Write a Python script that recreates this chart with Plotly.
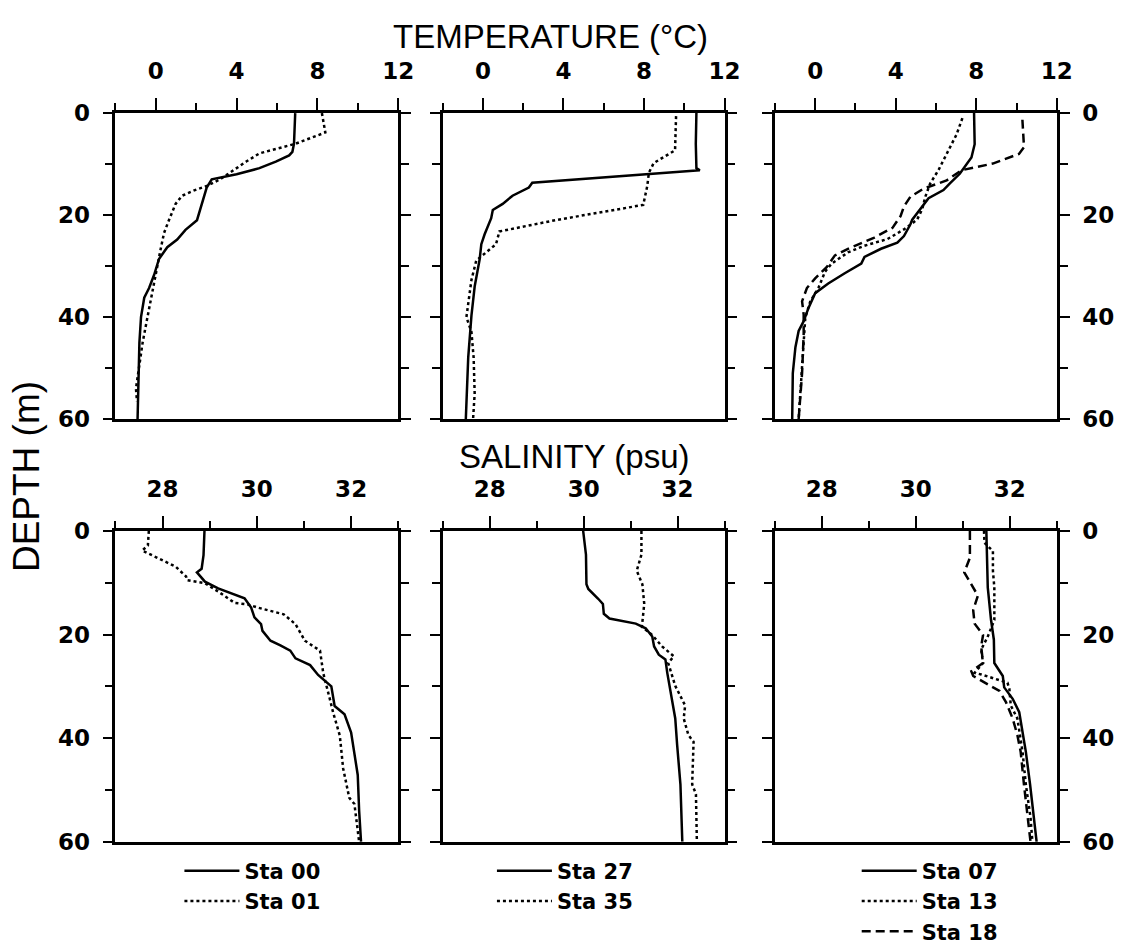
import plotly.graph_objects as go

# ---------------- data ----------------
# Panel 1: temperature, Sta 00 / Sta 01
t00_temp = [6.9, 6.87, 6.84, 6.76, 6.6, 5.94, 5.13, 4.0, 2.77, 2.52, 2.36, 2.2, 2.04, 1.47, 1.06, 0.57, 0.16, -0.08, -0.33, -0.57, -0.73, -0.81, -0.86, -0.9]
t00_depth = [0, 4.4, 6, 7.6, 8.3, 9.5, 10.8, 12, 13, 14.6, 16.8, 19, 21, 22.9, 24.8, 26.3, 28.6, 31.7, 34.3, 36.2, 40, 45, 51.4, 60]
t01_temp = [8.22, 8.39, 6.92, 6.27, 5.13, 4.48, 3.66, 3.18, 2.52, 1.87, 1.3, 0.98, 0.65, 0.41, 0.24, 0.08, -0.16, -0.41, -0.65, -0.81, -0.98, -0.93]
t01_depth = [0, 3.8, 6, 6.7, 7.9, 9.5, 11.7, 13, 14.3, 15.2, 16.2, 17.8, 21, 23.5, 26.7, 29.8, 34.9, 40, 45, 49.5, 54, 56.5]

# Panel 2: temperature, Sta 27 / Sta 35
t27_temp = [10.6, 10.57, 10.6, 10.77, 2.45, 2.28, 1.47, 0.98, 0.49, 0.41, 0.08, -0.08, -0.16, -0.41, -0.57, -0.73, -0.85]
t27_depth = [0, 6, 10.8, 11.2, 13.65, 14.6, 16.2, 17.8, 19, 20.6, 23.8, 25.7, 28.6, 34, 39.7, 47.9, 60]
t35_temp = [9.59, 9.54, 8.48, 8.24, 8.16, 7.96, 3.59, 0.82, 0.65, 0.08, -0.33, -0.57, -0.82, -0.57, -0.46, -0.41, -0.49]
t35_depth = [0.6, 7.3, 9.8, 11.7, 14.3, 18, 21, 23.2, 25.7, 27.6, 28.9, 32.7, 40, 42.9, 48, 55, 60]

# Panel 3: temperature, Sta 07 / Sta 13 / Sta 18
t07_temp = [7.89, 7.92, 7.76, 7.43, 7.18, 6.69, 6.37, 5.63, 5.22, 4.82, 4.73, 4.41, 4.08, 3.27, 2.45, 2.29, 1.47, 0.65, 0.0, -0.33, -0.57, -0.82, -0.98, -1.11, -1.14]
t07_depth = [0, 6.1, 8.7, 10.6, 11.9, 13.8, 15.1, 16.7, 18.9, 20.9, 21.8, 24.1, 25.4, 26.6, 28.2, 29.5, 31.4, 33.4, 35.3, 38.2, 40.8, 42.7, 45.9, 51, 60]
t13_temp = [7.31, 7.02, 6.53, 6.12, 5.71, 5.47, 5.31, 5.06, 4.41, 3.59, 2.45, 1.63, 0.82, 0.49, 0.16, -0.24, -0.49, -0.57, -0.65, -0.82]
t13_depth = [1, 4.2, 8, 11.2, 13.8, 16.4, 18.9, 20.9, 22.8, 24.7, 26, 27.3, 29.5, 31.1, 34.3, 36.9, 40.1, 44.6, 51, 60]
t18_temp = [10.29, 10.37, 10.12, 8.82, 7.27, 6.53, 5.39, 4.73, 4.41, 4.24, 3.84, 2.94, 1.63, 0.98, 0.57, 0.0, -0.41, -0.65, -0.57, -0.57, -0.65, -0.82]
t18_depth = [1.3, 6.7, 8, 9.9, 11.2, 13.2, 14.8, 16.4, 18.3, 20.2, 22.5, 24.4, 26.6, 27.9, 30.2, 32.4, 34.3, 36.9, 39.5, 43.3, 51, 60]

# Panel 4: salinity, Sta 00 / Sta 01
s00_sal = [28.89, 28.87, 28.83, 28.73, 28.9, 29.18, 29.74, 29.88, 29.95, 30.09, 30.12, 30.29, 30.5, 30.71, 30.82, 31.13, 31.3, 31.41, 31.58, 31.65, 31.86, 32.0, 32.07, 32.14, 32.17, 32.21]
s00_depth = [0, 4.7, 7.3, 8, 9.8, 11.1, 13, 14.8, 16.7, 18, 19.3, 21.2, 22.1, 23.1, 24.6, 25.9, 27.8, 28.7, 30, 33.8, 35.4, 38.9, 42.6, 47.1, 54, 60]
s01_sal = [27.71, 27.69, 27.57, 27.86, 28.28, 28.5, 28.52, 28.9, 29.18, 29.53, 29.81, 30.02, 30.57, 30.82, 31.02, 31.34, 31.41, 31.55, 31.62, 31.76, 31.83, 31.96, 32.07, 32.17]
s01_depth = [0, 2.8, 3.8, 5.1, 6.9, 8.8, 9.5, 10.1, 11.7, 13.9, 14.2, 14.8, 16.1, 18, 21.2, 23.1, 27.5, 32.5, 35.1, 39.5, 45.8, 51.5, 52.7, 60]

# Panel 5: salinity, Sta 27 / Sta 35
s27_sal = [29.99, 30.05, 30.06, 30.1, 30.31, 30.41, 30.43, 30.55, 31.11, 31.32, 31.46, 31.5, 31.6, 31.74, 31.78, 31.87, 31.95, 31.99, 32.06, 32.1]
s27_depth = [0, 4.6, 10.3, 11.2, 13.1, 14.1, 16, 16.9, 17.9, 18.8, 20.4, 22.3, 23.9, 24.8, 27.4, 32.4, 36.2, 41.3, 48.9, 60]
s35_sal = [31.23, 31.23, 31.13, 31.25, 31.29, 31.25, 31.24, 31.46, 31.67, 31.92, 31.8, 31.95, 32.16, 32.13, 32.23, 32.34, 32.31, 32.39, 32.41]
s35_depth = [0, 4.6, 7.7, 10.3, 14.1, 17.2, 18.5, 20.1, 22.3, 24.2, 25.5, 29.9, 33.7, 36.2, 39.4, 40.7, 48.9, 50.8, 60]

# Panel 6: salinity, Sta 07 / Sta 13 / Sta 18
s07_sal = [31.5, 31.52, 31.53, 31.6, 31.66, 31.67, 31.85, 31.88, 32.06, 32.2, 32.27, 32.34, 32.43, 32.57]
s07_depth = [0, 6.5, 10.9, 17.2, 21, 25.5, 28, 30.2, 32.4, 35, 38.8, 42.6, 48.9, 60]
s13_sal = [31.45, 31.46, 31.64, 31.64, 31.67, 31.67, 31.53, 31.39, 31.43, 31.25, 31.39, 31.95, 31.99, 32.02, 32.16, 32.27, 32.34, 32.44, 32.48]
s13_depth = [0, 2.3, 3.9, 7.7, 10.9, 17.2, 20.4, 22.9, 25.5, 27.4, 27.7, 29.3, 30.5, 33.7, 36.2, 42.6, 48.9, 55.3, 60]
s18_sal = [31.15, 31.15, 31.03, 31.15, 31.32, 31.22, 31.25, 31.43, 31.39, 31.43, 31.18, 31.22, 31.78, 31.92, 32.06, 32.16, 32.23, 32.3, 32.41, 32.44]
s18_depth = [0, 5.2, 8, 9.9, 12.5, 15.3, 17.9, 20.1, 22.3, 25.5, 27.1, 28, 30.9, 33.1, 36.2, 39.4, 42.6, 48.9, 58.4, 60]

temp_ticks = [0, 4, 8, 12]
sal_ticks = [28, 30, 32]
depth_ticks = [0, 20, 40, 60]
station_names = ["Sta 00", "Sta 01", "Sta 27", "Sta 35", "Sta 07", "Sta 13", "Sta 18"]

# ---------------- styling ----------------
W, H = 1131, 952
SOLID = "solid"
DOT = "3px,3px"
DASH = "9px,5px"
LW = 2.5
TICKFONT = dict(family="DejaVu Sans", size=23, color="black", weight="bold")
TITLEFONT = dict(family="Liberation Sans", size=33, color="black")

cols_px = [(117, 404), (449, 735), (786, 1072)]
rows_px = [(103, 418), (533, 853)]

def xdom(c):
    a, b = cols_px[c]
    return [a / W, b / W]

def ydom(r):
    a, b = rows_px[r]
    return [1 - b / H, 1 - a / H]

fig = go.Figure()

def add(i, x, y, name, dash, legend, show):
    fig.add_trace(go.Scatter(
        x=x, y=y, mode="lines", name=name,
        line=dict(color="black", width=LW, dash=dash),
        xaxis=f"x{i}", yaxis=f"y{i}",
        legend=legend, showlegend=show,
    ))

# temperature row
add(1, t00_temp, t00_depth, station_names[0], SOLID, "legend", True)
add(1, t01_temp, t01_depth, station_names[1], DOT, "legend", True)
add(2, t27_temp, t27_depth, station_names[2], SOLID, "legend2", True)
add(2, t35_temp, t35_depth, station_names[3], DOT, "legend2", True)
add(3, t07_temp, t07_depth, station_names[4], SOLID, "legend3", True)
add(3, t13_temp, t13_depth, station_names[5], DOT, "legend3", True)
add(3, t18_temp, t18_depth, station_names[6], DASH, "legend3", True)
# salinity row
add(4, s00_sal, s00_depth, station_names[0], SOLID, "legend", False)
add(4, s01_sal, s01_depth, station_names[1], DOT, "legend", False)
add(5, s27_sal, s27_depth, station_names[2], SOLID, "legend2", False)
add(5, s35_sal, s35_depth, station_names[3], DOT, "legend2", False)
add(6, s07_sal, s07_depth, station_names[4], SOLID, "legend3", False)
add(6, s13_sal, s13_depth, station_names[5], DOT, "legend3", False)
add(6, s18_sal, s18_depth, station_names[6], DASH, "legend3", False)

layout = dict(
    width=W, height=H,
    margin=dict(l=0, r=0, t=0, b=0),
    paper_bgcolor="white", plot_bgcolor="white",
    showlegend=True,
)

for i in range(1, 7):
    r = 0 if i <= 3 else 1
    c = (i - 1) % 3
    is_temp = r == 0
    xa = dict(
        domain=xdom(c), anchor=f"y{i}", side="top",
        range=[-2, 12] if is_temp else [27, 33],
        tickmode="array",
        tickvals=temp_ticks if is_temp else sal_ticks,
        ticktext=[str(v) for v in (temp_ticks if is_temp else sal_ticks)],
        ticks="outside", ticklen=12, tickwidth=2, tickcolor="black",
        minor=dict(dtick=2 if is_temp else 1, tick0=0 if is_temp else 27,
                   ticks="outside", ticklen=7, tickwidth=2, tickcolor="black"),
        showline=True, linewidth=2.5, linecolor="black", mirror=True,
        showgrid=False, zeroline=False,
        tickfont=TICKFONT, ticklabelstandoff=10,
        fixedrange=True,
    )
    show_labels = c != 1
    ya = dict(
        domain=ydom(r), anchor=f"x{i}",
        side="right" if c == 2 else "left",
        range=[60, 0],
        tickmode="array", tickvals=depth_ticks,
        ticktext=[str(v) for v in depth_ticks],
        ticks="outside", ticklen=10, tickwidth=2, tickcolor="black",
        minor=dict(dtick=10, tick0=0, ticks="outside", ticklen=8,
                   tickwidth=2, tickcolor="black"),
        showline=True, linewidth=2.5, linecolor="black", mirror="ticks",
        showgrid=False, zeroline=False,
        showticklabels=show_labels,
        tickfont=TICKFONT, ticklabelstandoff=8,
        fixedrange=True,
    )
    layout[f"xaxis{i}"] = xa
    layout[f"yaxis{i}"] = ya

legend_common = dict(
    font=dict(family="DejaVu Sans", size=21, color="black", weight="bold"),
    bgcolor="rgba(0,0,0,0)", borderwidth=0,
    xanchor="left", yanchor="top", itemwidth=55,
    tracegroupgap=0,
)
layout["legend"] = dict(x=182 / W, y=1 - 862 / H, **legend_common)
layout["legend2"] = dict(x=499 / W, y=1 - 862 / H, **legend_common)
layout["legend3"] = dict(x=869 / W, y=1 - 862 / H, **legend_common)

layout["annotations"] = [
    dict(text="TEMPERATURE (°C)", x=558 / W, y=1 - 24 / H, xref="paper", yref="paper",
         showarrow=False, font=TITLEFONT, xanchor="center", yanchor="middle"),
    dict(text="SALINITY (psu)", x=582 / W, y=1 - 456 / H, xref="paper", yref="paper",
         showarrow=False, font=TITLEFONT, xanchor="center", yanchor="middle"),
    dict(text="DEPTH (m)", x=27 / W, y=1 - 477 / H, xref="paper", yref="paper",
         showarrow=False, font=dict(family="Liberation Sans", size=37, color="black"),
         textangle=-90, xanchor="center", yanchor="middle"),
]

fig.update_layout(**layout)
fig.write_html("out.html")
